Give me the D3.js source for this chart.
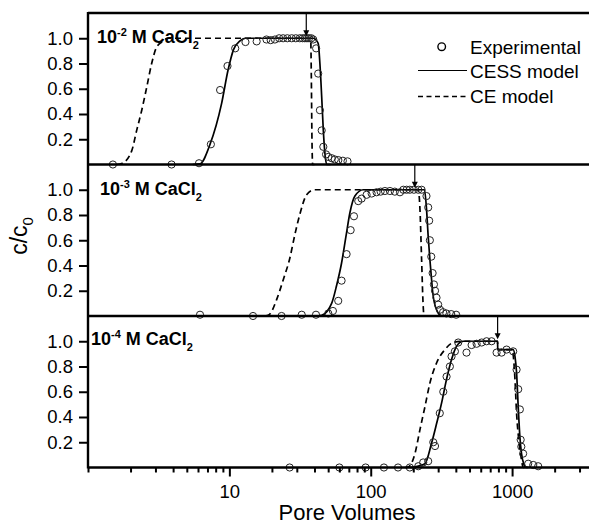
<!DOCTYPE html>
<html>
<head>
<meta charset="utf-8">
<script src="https://cdn.jsdelivr.net/npm/d3@7"></script>
<style>
body { margin: 0; background: #fff; }
text { font-family: Arial, "Liberation Sans", sans-serif; fill: #000; }
</style>
</head>
<body>
<script>
var width = 589, height = 525;

// --- data ---
var concLabels = ["-2", "-3", "-4"];
var arrowX = [35, 205, 790];

// 10^-2 M CaCl2
var exp2X = [1.5, 3.9, 6.1, 7.4, 8.6, 9.7, 11.0, 13.0, 15.6, 18.3, 19.6, 21.0, 22.5, 24.0, 25.7, 27.6, 29.5, 31.5, 33.0, 34.2, 35.4, 36.6, 38.0, 39.2, 41.1, 42.5, 43.7, 45.0, 46.2, 48.3, 50.1, 52.9, 55.7, 59.0, 63.5, 68.5];
var exp2Y = [0.0, 0.0, 0.01, 0.16, 0.59, 0.78, 0.92, 0.97, 0.975, 0.99, 0.985, 0.99, 1.0, 1.0, 1.0, 1.0, 1.0, 1.0, 1.0, 1.0, 1.0, 1.0, 1.0, 0.99, 0.92, 0.72, 0.43, 0.27, 0.14, 0.08, 0.06, 0.05, 0.04, 0.035, 0.03, 0.025];
var cess2X = [5.5, 6.2, 7.3, 8.8, 9.8, 10.7, 11.9, 12.9, 39.2, 42.5, 43.7, 45.0, 46.2, 47.4, 48.8, 52];
var cess2Y = [0, 0.005, 0.16, 0.48, 0.75, 0.91, 0.98, 1.0, 1.0, 0.96, 0.80, 0.535, 0.27, 0.09, 0.0, 0];
var ce2X = [1.6, 1.75, 2.04, 2.21, 2.40, 2.60, 2.82, 3.03, 3.32, 3.7, 37.6, 38.0, 38.4, 38.8, 40];
var ce2Y = [0, 0.01, 0.11, 0.27, 0.43, 0.61, 0.80, 0.92, 0.97, 1.0, 1.0, 0.7, 0.2, 0, 0];

// 10^-3 M CaCl2
var exp3X = [6.2, 14.7, 23.4, 32.5, 41.0, 50.1, 54.0, 58.9, 62.2, 67.5, 72.1, 76.1, 81.6, 86.2, 93.5, 101.5, 110, 117.5, 126, 136.7, 148, 161, 170, 179.4, 189, 202, 217, 229, 248, 255, 259, 262, 268, 274, 280, 285, 292, 300, 309, 325, 343, 371, 402];
var exp3Y = [0.01, 0, 0, 0.01, 0.01, 0.02, 0.04, 0.12, 0.28, 0.49, 0.68, 0.79, 0.91, 0.93, 0.96, 0.97, 0.98, 0.985, 0.99, 0.99, 0.985, 0.98, 1.0, 1.0, 1.0, 1.0, 1.0, 1.0, 0.95, 0.86, 0.755, 0.60, 0.47, 0.34, 0.25, 0.20, 0.145, 0.09, 0.05, 0.03, 0.02, 0.015, 0.01];
var cess3X = [42, 45, 52.9, 57.3, 62.2, 66.8, 71.3, 77.3, 88.5, 240, 248, 255, 262, 268, 275, 292, 317, 330];
var cess3Y = [0, 0.005, 0.10, 0.24, 0.42, 0.63, 0.82, 0.95, 1.0, 1.0, 0.85, 0.63, 0.45, 0.32, 0.18, 0.05, 0, 0];
var ce3X = [18, 18.8, 19.5, 21.6, 24.1, 26.8, 29, 31.6, 35.2, 40, 216.7, 222.9, 229, 235, 238, 245];
var ce3Y = [0, 0.005, 0.02, 0.13, 0.29, 0.46, 0.64, 0.81, 0.96, 1.0, 1.0, 0.85, 0.45, 0.08, 0, 0];

// 10^-4 M CaCl2
var exp4X = [26.7, 60, 92, 124, 156, 189, 217, 235, 255, 277, 285, 308, 326, 344, 363, 373, 394, 416, 476, 517, 561, 609, 660, 716, 777, 843, 914, 1018, 1076, 1105, 1135, 1150, 1162, 1197, 1300, 1412, 1530];
var exp4Y = [0, 0, 0, 0, 0, 0, 0.01, 0.04, 0.05, 0.2, 0.17, 0.43, 0.6, 0.72, 0.80, 0.88, 0.92, 0.99, 0.91, 0.97, 0.98, 0.99, 1.0, 1.0, 0.91, 0.91, 0.934, 0.92, 0.775, 0.62, 0.46, 0.22, 0.165, 0.11, 0.03, 0.02, 0.01];
var cess4X = [190, 200, 241.7, 269, 292.7, 317, 344, 373, 405, 451, 790, 791, 1018, 1048, 1076, 1105, 1135, 1166, 1208, 1254, 1300];
var cess4Y = [0, 0.003, 0.03, 0.19, 0.35, 0.51, 0.70, 0.855, 0.96, 1.0, 1.0, 0.934, 0.934, 0.88, 0.75, 0.48, 0.245, 0.11, 0.03, 0, 0];
var ce4X = [175, 184, 205.5, 223, 241.7, 262.4, 292.7, 335, 383.6, 440, 790, 791, 1000, 1021, 1048, 1076, 1123, 1166, 1197, 1230];
var ce4Y = [0, 0.003, 0.11, 0.30, 0.48, 0.67, 0.83, 0.934, 0.99, 1.0, 1.0, 0.934, 0.934, 0.88, 0.70, 0.43, 0.19, 0.06, 0, 0];

var yTicks = [0.2, 0.4, 0.6, 0.8, 1.0];
var xMajor = [10, 100, 1000];
var legendLabels = ["Experimental", "CESS model", "CE model"];

function zip(xs, ys) { return xs.map(function(x, i) { return [x, ys[i]]; }); }

var panels = [
  {conc: concLabels[0], exp: zip(exp2X, exp2Y), cess: zip(cess2X, cess2Y), ce: zip(ce2X, ce2Y), arrow: arrowX[0]},
  {conc: concLabels[1], exp: zip(exp3X, exp3Y), cess: zip(cess3X, cess3Y), ce: zip(ce3X, ce3Y), arrow: arrowX[1]},
  {conc: concLabels[2], exp: zip(exp4X, exp4Y), cess: zip(cess4X, cess4Y), ce: zip(ce4X, ce4Y), arrow: arrowX[2]}
];

// --- layout ---
var left = 88, right = 589, top0 = 13, panelH = 151.5;

var svg = d3.select("body").append("svg")
    .attr("width", width)
    .attr("height", height);

var x = d3.scaleLog().domain([1, 3500]).range([left, right]);

panels.forEach(function(p, i) {
  var t = top0 + i * panelH, b = t + panelH;
  var y = d3.scaleLinear().domain([0, 1.2]).range([b, t]);
  var g = svg.append("g");

  var line = d3.line()
      .x(function(d) { return x(d[0]); })
      .y(function(d) { return y(d[1]); })
      .curve(d3.curveMonotoneX);

  g.append("path").datum(p.ce)
      .attr("d", line)
      .attr("fill", "none").attr("stroke", "#000")
      .attr("stroke-width", 1.7).attr("stroke-dasharray", "6,4");

  g.append("path").datum(p.cess)
      .attr("d", line)
      .attr("fill", "none").attr("stroke", "#000")
      .attr("stroke-width", 1.7);

  g.selectAll("circle").data(p.exp).enter().append("circle")
      .attr("cx", function(d) { return x(d[0]); })
      .attr("cy", function(d) { return y(d[1]); })
      .attr("r", 3.6)
      .attr("fill", "none").attr("stroke", "#222").attr("stroke-width", 1);

  // y axis
  var ya = g.append("g")
      .attr("transform", "translate(" + left + ",0)")
      .call(d3.axisLeft(y).tickValues(yTicks).tickFormat(d3.format(".1f")).tickSize(9).tickPadding(6));
  ya.select(".domain").remove();
  ya.selectAll("line").attr("stroke-width", 2);
  ya.selectAll("text").style("font-size", "18.5px");

  // frame line at panel top
  g.append("line")
      .attr("x1", left).attr("x2", right)
      .attr("y1", t).attr("y2", t)
      .attr("stroke", "#000").attr("stroke-width", 2.4);

  // arrow
  g.append("line")
      .attr("x1", x(p.arrow)).attr("x2", x(p.arrow))
      .attr("y1", t).attr("y2", y(1.0) - 6)
      .attr("stroke", "#000").attr("stroke-width", 1.2);
  g.append("path")
      .attr("d", "M" + (x(p.arrow) - 3) + "," + (y(1.0) - 8) + "L" + (x(p.arrow) + 3) + "," + (y(1.0) - 8) + "L" + x(p.arrow) + "," + (y(1.0) - 2) + "Z")
      .attr("fill", "#000");

  // panel label
  var lx = [97, 100, 91][i], ly = [43, 195, 345][i];
  var lab = g.append("text")
      .attr("x", lx).attr("y", ly)
      .style("font-size", "18px").style("font-weight", "bold");
  lab.append("tspan").text("10");
  lab.append("tspan").attr("dy", -7).style("font-size", "11px").text(p.conc);
  lab.append("tspan").attr("dy", 7).text(" M CaCl");
  lab.append("tspan").attr("dy", 6).style("font-size", "11px").text("2");
});

var bottom = top0 + 3 * panelH;

// bottom frame and x axis
var xTicks = [];
[1, 10, 100, 1000].forEach(function(dec) {
  for (var k = 1; k <= 9; k++) if (dec * k <= 3500) xTicks.push(dec * k);
});
var xa = svg.append("g")
    .attr("transform", "translate(0," + bottom + ")")
    .call(d3.axisBottom(x).tickValues(xTicks).tickSize(5)
      .tickFormat(function(d) { return xMajor.indexOf(d) >= 0 ? d : ""; }));
xa.select(".domain").remove();
xa.selectAll("line").attr("stroke-width", 2)
    .attr("y2", function(d) { return xMajor.indexOf(d) >= 0 ? 9 : 5; });
xa.selectAll("text").attr("y", 17).style("font-size", "18.5px");

svg.append("line")
    .attr("x1", left).attr("x2", right)
    .attr("y1", bottom).attr("y2", bottom)
    .attr("stroke", "#000").attr("stroke-width", 2.4);

svg.append("line")
    .attr("x1", left).attr("x2", left)
    .attr("y1", top0 - 1).attr("y2", bottom + 1)
    .attr("stroke", "#000").attr("stroke-width", 2.4);

// axis titles
svg.append("text")
    .attr("x", 347).attr("y", 520)
    .attr("text-anchor", "middle")
    .style("font-size", "22px")
    .text("Pore Volumes");

var yt = svg.append("text")
    .attr("transform", "translate(27,236) rotate(-90)")
    .attr("text-anchor", "middle")
    .style("font-size", "23px");
yt.append("tspan").text("c/c");
yt.append("tspan").attr("dy", 6).style("font-size", "15px").text("0");

// legend
var leg = svg.append("g");
leg.append("circle").attr("cx", 441.7).attr("cy", 46.7).attr("r", 3.8)
    .attr("fill", "none").attr("stroke", "#000").attr("stroke-width", 1.4);
leg.append("line").attr("x1", 418).attr("x2", 467).attr("y1", 70.5).attr("y2", 70.5)
    .attr("stroke", "#000").attr("stroke-width", 1.2);
leg.append("line").attr("x1", 418).attr("x2", 467).attr("y1", 96.5).attr("y2", 96.5)
    .attr("stroke", "#000").attr("stroke-width", 1.4).attr("stroke-dasharray", "5,3.5");
leg.selectAll("text").data(legendLabels).enter().append("text")
    .attr("x", 470)
    .attr("y", function(d, i) { return [54, 78, 103][i]; })
    .style("font-size", "19px")
    .text(function(d) { return d; });
</script>
</body>
</html>
